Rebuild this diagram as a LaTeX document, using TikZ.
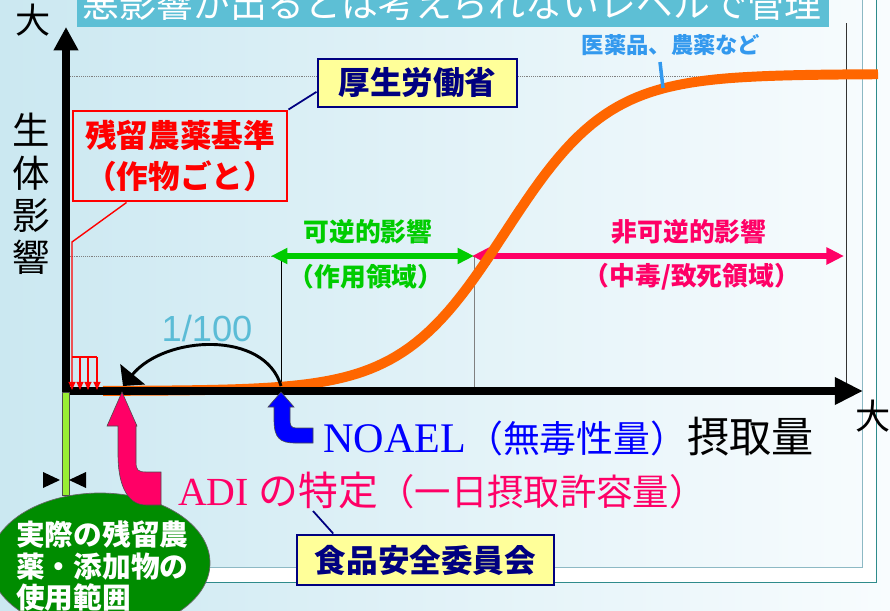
\documentclass[tikz,border=0pt]{standalone}
\usepackage{fontspec}
\setmainfont{Noto Sans CJK JP}
\newfontfamily\latinserif{Liberation Serif}
\newfontfamily\latinsans{Liberation Sans}
\usetikzlibrary{arrows.meta}
\definecolor{bgleft}{HTML}{CBE8F1}
\definecolor{bgright}{HTML}{F8FCFE}
\definecolor{bannerblue}{HTML}{5DBFD5}
\definecolor{ratioblue}{HTML}{5BBCD6}
\definecolor{curveorange}{HTML}{FF6600}
\definecolor{hotpink}{HTML}{FF0066}
\definecolor{navyline}{HTML}{000080}
\definecolor{noteyellow}{HTML}{FFFF99}
\definecolor{revgreen}{HTML}{00CC00}
\definecolor{limebar}{HTML}{99EE33}
\definecolor{ovalgreen}{HTML}{008C00}
\definecolor{drugblue}{HTML}{3399EE}
\definecolor{framegray}{HTML}{8DB9C4}
\definecolor{frameteal}{HTML}{2E8B8B}
\newcommand{\jpsize}[2]{\fontsize{#1}{#2}\selectfont}
\newcommand{\px}{0.03cm}

\begin{document}
\begin{tikzpicture}[x=0.03cm, y=-0.03cm,
    axis/.style={line width=6.5pt},
    note/.style={draw=navyline, fill=noteyellow, line width=2.5pt, text=navyline,
        font=\jpsize{27pt}{27pt}\bfseries, inner sep=0pt},
    guide/.style={gray, densely dotted, line width=0.6pt},
    bentarrow/.style={draw=black!70, line width=0.5pt}]
    \useasboundingbox (0,0) rectangle (890,610);
    \clip (0,0) rectangle (890,610);
    % the backdrop
    \shade[left color=bgleft, right color=bgright] (0,0) rectangle (890,610);
    \fill[white] (0,567) -- (862,567) -- (862,0) -- (876,0) -- (876,582) -- (0,582) -- cycle;
    \draw[framegray, line width=0.8pt] (0,567) -- (862,567) -- (862,0);
    \draw[frameteal, line width=0.8pt] (0,582) -- (876,582) -- (876,0);
    % the banner
    \fill[bannerblue] (77,0) rectangle (829,27);
    \node[text=white, font=\jpsize{31.5pt}{31.5pt}, anchor=base, inner sep=0pt] (banner)
        at (452,17) {悪影響が出るとは考えられないレベルで管理};

    % guides
    \draw[guide] (70,76) -- (317,76);
    \draw[guide, -{Triangle[length=5pt,width=5pt]}] (518,76) -- (877,76);
    \draw[guide] (70,256) -- (620,256);
    \draw[black, line width=0.6pt] (281,256) -- (281,391);
    \draw[gray, line width=0.8pt] (474,256) -- (474,391);
    \draw[black!80, line width=0.6pt] (846,23) -- (846,391);

    % the ranges
    \coordinate (revL) at (271,256);
    \coordinate (revR) at (474,256);
    \coordinate (irrL) at (472,256);
    \coordinate (irrR) at (844,256);
    \draw[revgreen, line width=4.5pt, {Triangle[length=14pt,width=13pt]}-{Triangle[length=14pt,width=13pt]}]
        (revL) -- (revR);
    \draw[hotpink, line width=4.5pt, {Triangle[length=15pt,width=14pt]}-{Triangle[length=15pt,width=14pt]}]
        (irrL) -- (irrR);
    \node[text=revgreen, font=\jpsize{22pt}{22pt}\bfseries, inner sep=0pt] (revtop) at (368,232) {可逆的影響};
    \node[text=revgreen, font=\jpsize{22pt}{22pt}\bfseries, inner sep=0pt] (revbot) at (366,277) {（作用領域）};
    \node[text=hotpink, font=\jpsize{22pt}{22pt}\bfseries, inner sep=0pt] (irrtop) at (689,232) {非可逆的影響};
    \node[text=hotpink, font=\jpsize{22pt}{22pt}\bfseries, inner sep=0pt] (irrbot) at (692,277) {（中毒/致死領域）};

    % the dose curve
    \draw[curveorange, line width=8.5pt] plot[domain=103:878, samples=120]
        (\x, {391-317/(1+exp(-(\x-505)/52))});
    \node[text=drugblue, font=\jpsize{19pt}{19pt}\bfseries, inner sep=0pt] (drug) at (671,45) {医薬品、農薬など};
    \draw[drugblue, line width=3pt] (660,62) -- (663,88);

    % the axes
    \draw[axis, -{Triangle[length=20pt,width=20pt]}] (66,395) -- (66,27);
    \draw[axis, line width=6.8pt, -{Triangle[length=24pt,width=22pt]}] (62,391) -- (863,391);
    \node[font=\jpsize{30pt}{30pt}, inner sep=0pt] (bigy) at (33,20) {大};
    \node[font=\jpsize{30pt}{30pt}, inner sep=0pt] (bigx) at (873,416) {大};
    \node[font=\jpsize{32pt}{36pt}, align=center, inner sep=0pt] (yname) at (31,194) {生\\体\\影\\響};

    % the standard
    \node[draw=red, line width=2.5pt, minimum width=214*\px, minimum height=90*\px, text=red,
        font=\jpsize{27pt}{35pt}\bfseries, align=left, inner sep=0pt] (redbox) at (180,156)
        {残留農薬基準\\（作物ごと）};
    \node[note, minimum width=199*\px, minimum height=48*\px] (mhlw) at (417.5,83) {厚生労働省};
    \draw[navyline, line width=1.5pt] (mhlw.185) -- (redbox.north east);
    \coordinate (bend) at (72,242);
    \coordinate (floor) at (72,390);
    \draw[red, line width=1.2pt, -{Triangle[length=7pt,width=6pt]}] (redbox.221) -- (bend) -- (floor);
    \draw[red, line width=1.2pt] (72,357) -- (97,357);
    \foreach \x in {80,88,97} {
        \draw[red, line width=1.2pt, -{Triangle[length=7pt,width=6pt]}] (\x,357) -- (\x,390);
    };

    % the actual use
    \draw[fill=limebar, draw=black!70, line width=0.5pt] (62,392) rectangle (69,495);
    \fill (43,472) -- (60,480) -- (43,488) -- cycle;
    \fill (86,472) -- (69,480) -- (86,488) -- cycle;
    \draw[fill=ovalgreen, draw=black!60, line width=0.6pt] (100,563) ellipse [x radius=110, y radius=70];
    \node[text=white, font=\jpsize{24.5pt}{26.5pt}\bfseries, align=left, anchor=west, inner sep=0pt]
        (usage) at (16,566) {実際の残留農\\薬・添加物の\\使用範囲};

    % NOAEL and ADI
    \draw[bentarrow, fill=blue] (281,392) -- (294,407) -- (290,407) -- (290,420)
        .. controls (290,425) and (291,428) .. (296,428) -- (313,428) -- (313,443) -- (295,443)
        .. controls (280,443) and (274,438) .. (274,420) -- (274,407) -- (268,407) -- cycle;
    \draw[bentarrow, fill=hotpink] (122,392) -- (137,426) -- (136,426) -- (136,462)
        .. controls (136,470) and (138,472) .. (146,472) -- (161,472) -- (161,505) -- (146,505)
        .. controls (125,505) and (118,480) .. (118,455) -- (118,426) -- (107,426) -- cycle;
    \coordinate (noaelpt) at (281,386);
    \coordinate (adipt) at (123,386);
    \draw[line width=2.5pt, -{Triangle[length=13pt,width=27pt]}]
        (noaelpt) .. controls (265,330) and (165,335) .. (adipt);
    \node[text=ratioblue, font=\latinsans\jpsize{31pt}{31pt}, inner sep=0pt] (ratio) at (207,329) {1/100};
    \node[anchor=base west, inner sep=0pt, text=blue] (noael) at (323,452)
        {\latinserif\jpsize{36pt}{36pt}NOAEL\normalfont\jpsize{31.5pt}{31.5pt}（無毒性量）\color{black}\jpsize{36pt}{36pt}摂取量};
    \node[anchor=base west, inner sep=0pt, text=hotpink] (adi) at (178,505)
        {\latinserif\jpsize{34pt}{34pt}ADI \normalfont の特定\jpsize{31pt}{31pt}（一日摂取許容量）};
    \node[note, minimum width=257*\px, minimum height=50*\px] (fsc) at (425.5,560) {食品安全委員会};
    \coordinate (fscend) at (313,511);
    \draw[navyline, line width=1.5pt] (fsc.164) -- (fscend);
\end{tikzpicture}
\end{document}
